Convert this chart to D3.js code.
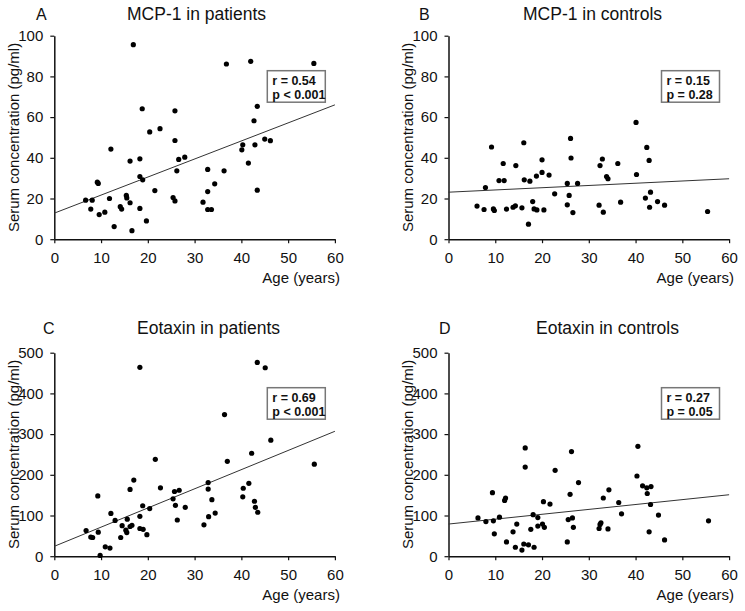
<!DOCTYPE html>
<html>
<head>
<meta charset="utf-8">
<script src="https://cdn.jsdelivr.net/npm/d3@7"></script>
<style>
  body { margin: 0; background: #fff; }
  svg text { font-family: "Liberation Sans", Arial, sans-serif; fill: #111; }
</style>
</head>
<body>
<script>
(function() {
  // data: [age, serum concentration]
  var mcpPatients = [[6.7,19.2],[8.1,19.2],[7.8,14.8],[9.2,28.0],[9.4,27.4],[9.6,12.1],[10.8,13.3],[11.8,20.0],[12.1,44.3],[12.8,6.2],[14.1,16.0],[14.4,14.8],[15.4,21.5],[15.5,20.3],[16.2,17.9],[16.2,38.4],[16.6,4.2],[16.9,95.6],[18.3,15.1],[18.3,30.8],[18.3,39.5],[18.8,64.1],[18.9,29.2],[19.7,9.0],[20.4,52.7],[21.5,23.9],[22.6,54.3],[25.4,20.5],[25.8,18.8],[25.8,63.1],[25.8,48.5],[26.2,33.6],[26.6,39.2],[27.9,40.3],[31.8,18.2],[32.8,23.4],[32.8,34.3],[32.8,14.6],[33.6,14.6],[34.3,27.2],[36.3,33.6],[36.8,86.1],[40.1,43.9],[40.3,46.4],[41.5,37.4],[42.0,87.4],[42.7,58.2],[42.9,46.4],[43.4,65.3],[43.4,24.1],[45.0,49.2],[46.2,48.4],[55.5,86.4]];

  var mcpControls = [[6.1,16.3],[7.6,14.6],[7.9,25.4],[9.2,45.3],[9.6,14.9],[9.8,14.1],[10.8,28.8],[11.7,37.2],[11.9,28.8],[12.4,14.8],[13.8,15.7],[14.3,16.4],[14.4,36.2],[15.7,15.4],[16.1,47.4],[16.2,29.2],[17.1,7.4],[17.4,28.5],[18.0,18.5],[18.3,14.9],[18.8,31.0],[18.9,14.4],[20.0,39.0],[20.0,32.8],[20.4,14.4],[21.5,31.5],[22.7,22.3],[25.4,27.4],[25.4,16.9],[25.8,21.5],[26.1,49.5],[26.2,39.9],[26.6,13.1],[27.6,27.4],[32.2,16.7],[32.4,36.2],[32.9,39.4],[33.1,13.3],[33.8,30.8],[34.1,29.7],[36.2,37.2],[36.8,18.2],[40.1,57.4],[40.2,31.8],[42.1,20.2],[42.4,45.1],[42.9,38.7],[43.0,15.7],[43.2,23.1],[44.7,18.5],[46.2,16.7],[55.4,13.6]];

  var eotaxinPatients = [[6.8,63],[7.8,47],[8.2,46],[9.3,148],[9.4,59],[9.8,2],[10.9,23],[11.9,20],[12.1,105],[13.0,88],[14.2,46],[14.5,75],[15.3,64],[15.5,58],[15.6,91],[16.2,73],[16.6,76],[16.2,164],[17.0,187],[18.3,464],[18.3,98],[18.3,68],[19.0,66],[19.8,53],[18.9,124],[20.4,117],[21.6,238],[22.7,168],[25.4,141],[25.7,159],[25.9,125],[26.7,162],[26.3,89],[28.0,120],[32.0,77],[33.0,97],[34.4,106],[32.9,181],[32.9,165],[33.7,139],[36.4,348],[37.0,233],[40.3,146],[40.4,167],[41.6,179],[42.2,253],[42.8,135],[43.0,120],[43.5,108],[43.4,476],[45.1,463],[46.3,285],[55.6,226]];

  var eotaxinControls = [[6.3,94],[8.0,85],[9.4,156],[9.6,87],[9.8,55],[10.9,96],[12.0,137],[12.2,143],[12.4,35],[13.8,60],[14.3,22],[14.6,79],[15.7,15],[16.1,30],[16.4,266],[16.4,219],[17.1,28],[17.6,66],[18.1,102],[18.3,22],[19.1,95],[19.1,74],[20.1,79],[20.3,134],[20.5,71],[21.7,128],[22.8,211],[25.4,35],[25.6,90],[26.0,152],[26.3,257],[26.5,94],[26.7,71],[27.8,181],[32.2,68],[32.4,78],[32.6,82],[33.1,143],[34.1,67],[34.3,163],[36.4,132],[37.0,104],[40.3,197],[40.5,270],[41.5,173],[42.4,168],[42.5,154],[42.9,60],[43.2,127],[43.3,171],[44.9,101],[46.2,40],[55.6,87]];

  var panelData = [mcpPatients, mcpControls, eotaxinPatients, eotaxinControls];
  var panelLetters = ['A', 'B', 'C', 'D'];
  var panelTitles = ['MCP-1 in patients', 'MCP-1 in controls', 'Eotaxin in patients', 'Eotaxin in controls'];
  var statR = ['r = 0.54', 'r = 0.15', 'r = 0.69', 'r = 0.27'];
  var statP = ['p < 0.001', 'p = 0.28', 'p < 0.001', 'p = 0.05'];
  var yMaxes = [100, 100, 500, 500];
  var yTicks = [[0, 20, 40, 60, 80, 100], [0, 20, 40, 60, 80, 100], [0, 100, 200, 300, 400, 500], [0, 100, 200, 300, 400, 500]];
  var ageTicks = [0, 10, 20, 30, 40, 50, 60];
  var fitIntercepts = [12.8, 23.1, 24.3, 79];
  var fitSlopes = [0.887, 0.11, 4.71, 1.2];
  var yLabel = 'Serum concentration (pg/ml)';
  var xLabel = 'Age (years)';

  // layout
  var lefts = [54.3, 448.5, 54.3, 448.5];
  var tops = [35.7, 35.7, 352.7, 352.7];
  var titleX = [127, 523, 137, 536];
  var letterX = [36, 419, 43, 439];
  var titleY = [20, 20, 334, 334];
  var plotW = 280.6, plotH = 203.5;

  var svg = d3.select('body').append('svg').attr('width', 745).attr('height', 611);

  panelData.forEach(function(data, i) {
    var g = svg.append('g').attr('transform', 'translate(' + lefts[i] + ',' + tops[i] + ')');
    var x = d3.scaleLinear().domain([0, 60]).range([0, plotW]);
    var y = d3.scaleLinear().domain([0, yMaxes[i]]).range([plotH, 0]);

    var xAxis = g.append('g').attr('transform', 'translate(0,' + plotH + ')')
      .call(d3.axisBottom(x).tickValues(ageTicks).tickSize(4).tickSizeOuter(0).tickPadding(9));
    var yAxis = g.append('g')
      .call(d3.axisLeft(y).tickValues(yTicks[i]).tickSize(4).tickSizeOuter(0).tickPadding(7));
    [xAxis, yAxis].forEach(function(ax) {
      ax.select('.domain').attr('stroke', '#111').attr('stroke-width', 1.5);
      ax.selectAll('.tick line').attr('stroke', '#111').attr('stroke-width', 1.2);
      ax.selectAll('.tick text').attr('font-size', 15).attr('font-family', '"Liberation Sans", Arial, sans-serif').attr('fill', '#111');
    });

    // regression line
    g.append('line')
      .attr('x1', x(0)).attr('y1', y(fitIntercepts[i]))
      .attr('x2', x(60)).attr('y2', y(fitIntercepts[i] + fitSlopes[i] * 60))
      .attr('stroke', '#333').attr('stroke-width', 1);

    g.selectAll('circle.dot').data(data).enter().append('circle')
      .attr('class', 'dot')
      .attr('cx', function(d) { return x(d[0]); })
      .attr('cy', function(d) { return y(d[1]); })
      .attr('r', 2.6)
      .attr('fill', '#000');

    // stats box
    var box = g.append('g').attr('transform', 'translate(213,35)');
    box.append('rect').attr('width', 58).attr('height', 31.5)
      .attr('fill', '#fff').attr('stroke', '#777').attr('stroke-width', 1.5);
    box.append('text').attr('x', 5).attr('y', 14.5).attr('font-size', 12.5).attr('font-weight', 'bold').text(statR[i]);
    box.append('text').attr('x', 5).attr('y', 28.5).attr('font-size', 12.5).attr('font-weight', 'bold').text(statP[i]);

    // labels
    g.append('text')
      .attr('transform', 'translate(-41,' + (plotH / 2) + ') rotate(-90)')
      .attr('text-anchor', 'middle').attr('dy', '0.35em')
      .attr('font-size', 15).text(yLabel);
    g.append('text')
      .attr('x', plotW + 5).attr('y', plotH + 44)
      .attr('text-anchor', 'end').attr('font-size', 15).text(xLabel);

    svg.append('text').attr('x', letterX[i]).attr('y', titleY[i]).attr('font-size', 16).text(panelLetters[i]);
    svg.append('text').attr('x', titleX[i]).attr('y', titleY[i]).attr('font-size', 17.5).text(panelTitles[i]);
  });

}).call(this);
</script>
</body>
</html>
